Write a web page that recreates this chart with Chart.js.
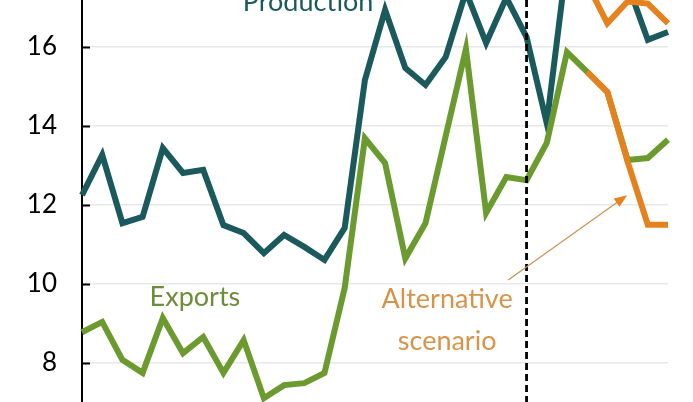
<!DOCTYPE html>
<html>
<head>
<meta charset="utf-8">
<script src="https://cdn.jsdelivr.net/npm/chart.js@4"></script>
<style>
  html, body { margin: 0; padding: 0; background: #fff; }
  #wrap { width: 693px; height: 402px; }
</style>
</head>
<body>
<div id="wrap"><canvas id="chart"></canvas></div>
<script>
// periods (x axis is cut off in the picture, so just an index)
const periods = Array.from({ length: 30 }, (_, i) => String(i));

const production = [12.25, 13.27, 11.54, 11.70, 13.44, 12.81, 12.89, 11.49, 11.29, 10.78,
                    11.24, 10.94, 10.61, 11.42, 15.16, 16.94, 15.47, 15.04, 15.75, 17.40,
                    16.10, 17.25, 16.25, 14.07, 18.20, 17.60, 17.70, 17.60, 16.18, 16.38];

const exports_ = [8.78, 9.04, 8.08, 7.75, 9.14, 8.25, 8.66, 7.75, 8.58, 7.11,
                  7.44, 7.49, 7.75, 9.90, 13.69, 13.06, 10.65, 11.54, 13.75, 15.95,
                  11.80, 12.71, 12.63, 13.57, 15.87, 15.37, 14.86, 13.14, 13.19, 13.65];

// alternative scenario, branching off at period 25
const altProduction = [null, null, null, null, null, null, null, null, null, null,
                       null, null, null, null, null, null, null, null, null, null,
                       null, null, null, null, null, 17.60, 16.60, 17.15, 17.10, 16.60];
const altExports = [null, null, null, null, null, null, null, null, null, null,
                    null, null, null, null, null, null, null, null, null, null,
                    null, null, null, null, null, 15.37, 14.86, 13.10, 11.50, 11.50];

const yTicks = [8, 10, 12, 14, 16];
const forecastStart = 22;

const TEAL = '#1b5a5c';
const GREEN = '#6b9a2e';
const ORANGE = '#e6821e';
const FONT = 'Lato, "Open Sans", sans-serif';

// dashed divider, inward tick marks, labels and arrow
const extras = {
    id: 'extras',
    afterDatasetsDraw(chart) {
        const ctx = chart.ctx;
        const x = chart.scales.x, y = chart.scales.y;
        const area = chart.chartArea;

        ctx.save();
        // tick marks pointing into the plot
        ctx.strokeStyle = '#000';
        ctx.lineWidth = 2;
        yTicks.forEach(v => {
            const py = Math.round(y.getPixelForValue(v)) + 0.5;
            ctx.beginPath();
            ctx.moveTo(area.left, py);
            ctx.lineTo(area.left + 8, py);
            ctx.stroke();
        });

        // vertical dashed line
        const dx = x.getPixelForValue(forecastStart);
        ctx.setLineDash([7, 4]);
        ctx.lineWidth = 2.8;
        ctx.beginPath();
        ctx.moveTo(dx, area.top);
        ctx.lineTo(dx, area.bottom);
        ctx.stroke();
        ctx.setLineDash([]);

        // labels
        ctx.font = '27px ' + FONT;
        ctx.textAlign = 'center';
        ctx.textBaseline = 'alphabetic';
        ctx.fillStyle = TEAL;
        ctx.fillText('Production', x.getPixelForValue(11.19), y.getPixelForValue(16.91));
        ctx.fillStyle = '#6e8d3a';
        ctx.fillText('Exports', x.getPixelForValue(5.59), y.getPixelForValue(9.44));
        ctx.fillStyle = '#d6944a';
        ctx.fillText('Alternative', x.getPixelForValue(18.07), y.getPixelForValue(9.39));
        ctx.fillText('scenario', x.getPixelForValue(18.07), y.getPixelForValue(8.33));

        // arrow to the alternative scenario
        const x0 = x.getPixelForValue(21.09), y0 = y.getPixelForValue(10.10);
        const x1 = x.getPixelForValue(26.98), y1 = y.getPixelForValue(12.25);
        const ang = Math.atan2(y1 - y0, x1 - x0);
        ctx.strokeStyle = '#c99558';
        ctx.lineWidth = 1.3;
        ctx.beginPath();
        ctx.moveTo(x0, y0);
        ctx.lineTo(x1 - 10 * Math.cos(ang), y1 - 10 * Math.sin(ang));
        ctx.stroke();
        ctx.fillStyle = ORANGE;
        ctx.beginPath();
        ctx.moveTo(x1, y1);
        ctx.lineTo(x1 - 13 * Math.cos(ang) + 5 * Math.sin(ang), y1 - 13 * Math.sin(ang) - 5 * Math.cos(ang));
        ctx.lineTo(x1 - 13 * Math.cos(ang) - 5 * Math.sin(ang), y1 - 13 * Math.sin(ang) + 5 * Math.cos(ang));
        ctx.closePath();
        ctx.fill();
        ctx.restore();
    }
};

const line = (data, color, order) => ({
    data: data,
    borderColor: color,
    borderWidth: 6,
    pointRadius: 0,
    tension: 0,
    spanGaps: false,
    borderJoinStyle: 'miter',
    order: order
});

new Chart(document.getElementById('chart'), {
    type: 'line',
    data: {
        labels: periods,
        datasets: [
            line(production, TEAL, 2),
            line(exports_, GREEN, 1),
            line(altProduction, ORANGE, 0),
            line(altExports, ORANGE, 0)
        ]
    },
    options: {
        responsive: true,
        maintainAspectRatio: false,
        animation: false,
        events: [],
        layout: { autoPadding: false, padding: { left: 0, right: 25, top: 0, bottom: 0 } },
        plugins: { legend: { display: false }, tooltip: { enabled: false } },
        scales: {
            x: { display: false },
            y: {
                min: 7.013,
                max: 17.19,
                afterBuildTicks: scale => { scale.ticks = yTicks.map(v => ({ value: v })); },
                afterFit: scale => {
                    scale.width = 82;
                    scale.paddingTop = 0;
                    scale.paddingBottom = 0;
                },
                grid: { color: '#e8e8e8', lineWidth: 1.5, drawTicks: false },
                border: { display: true, color: '#000', width: 2 },
                ticks: { padding: 25, color: '#000', font: { family: FONT, size: 26 } }
            }
        }
    },
    plugins: [extras]
});
</script>
</body>
</html>
